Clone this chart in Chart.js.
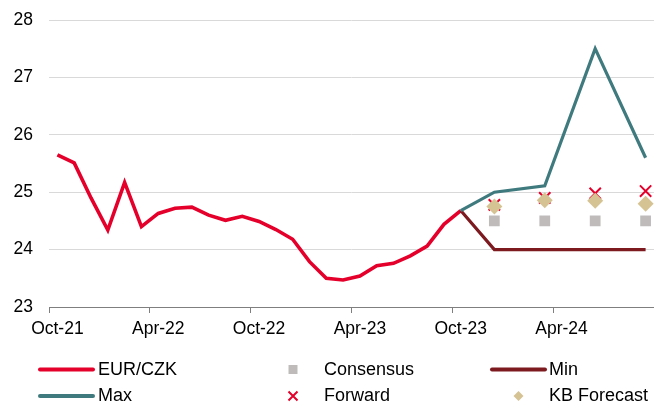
<!DOCTYPE html>
<html>
<head>
<meta charset="utf-8">
<script src="https://cdn.jsdelivr.net/npm/chart.js@4.4.1/dist/chart.umd.min.js"></script>
<style>
  html, body { margin: 0; padding: 0; background: #ffffff; }
  #wrap { position: relative; width: 654px; height: 407px; }
</style>
</head>
<body>
<div id="wrap"><canvas id="c" width="654" height="407"></canvas></div>
<script>
// Monthly categories, Oct-21 .. Sep-24
const months = [
  'Oct-21','Nov-21','Dec-21','Jan-22','Feb-22','Mar-22','Apr-22','May-22','Jun-22',
  'Jul-22','Aug-22','Sep-22','Oct-22','Nov-22','Dec-22','Jan-23','Feb-23','Mar-23',
  'Apr-23','May-23','Jun-23','Jul-23','Aug-23','Sep-23','Oct-23','Nov-23','Dec-23',
  'Jan-24','Feb-24','Mar-24','Apr-24','May-24','Jun-24','Jul-24','Aug-24','Sep-24'
];

// EUR/CZK history, Oct-21 .. Oct-23
const eurCzk = [
  25.65, 25.51, 24.90, 24.34, 25.17, 24.40, 24.63, 24.72, 24.74,
  24.60, 24.51, 24.58, 24.49, 24.35, 24.18, 23.79, 23.50, 23.47,
  23.54, 23.72, 23.76, 23.89, 24.06, 24.44, 24.68
];

// Quarter-end forecasts
const forecastMonths = ['Dec-23', 'Mar-24', 'Jun-24', 'Sep-24'];
const consensus  = [24.50, 24.50, 24.50, 24.50];
const forward    = [24.78, 24.90, 24.98, 25.02];
const kbForecast = [24.75, 24.86, 24.85, 24.80];

// Forecast range paths, starting from the last actual month
const rangeMonths = ['Oct-23', 'Dec-23', 'Mar-24', 'Jun-24', 'Sep-24'];
const maxPath = [24.68, 25.00, 25.11, 27.50, 25.60];
const minPath = [24.68, 24.00, 24.00, 24.00, 24.00];

const yMin = 23, yMax = 28, yStep = 1;
const tickEvery = 6;

const FONT = "'Liberation Sans', Arial, Helvetica, sans-serif";
const RED = '#e4002b', TEAL = '#3f7a7f', DARKRED = '#7c1a1f', GREY = '#bfbbbb', TAN = '#d6c394';

const pairs = (xs, ys) => xs.map((x, i) => ({ x: x, y: ys[i] }));

const datasets = [
  { label: 'KB Forecast', data: pairs(forecastMonths, kbForecast), showLine: false,
    pointStyle: 'rectRot', pointRadius: 8, pointHoverRadius: 8, backgroundColor: TAN, borderColor: TAN, borderWidth: 0, order: 1 },
  { label: 'Forward', data: pairs(forecastMonths, forward), showLine: false,
    pointStyle: 'crossRot', pointRadius: 8, pointHoverRadius: 8, borderColor: RED, backgroundColor: RED, pointBorderWidth: 2, order: 2 },
  { label: 'Consensus', data: pairs(forecastMonths, consensus), showLine: false,
    pointStyle: 'rect', pointRadius: 7.6, pointHoverRadius: 7.6, backgroundColor: GREY, borderColor: GREY, borderWidth: 0, order: 3 },
  { label: 'Max', data: pairs(rangeMonths, maxPath), borderColor: TEAL, backgroundColor: TEAL,
    borderWidth: 3.2, pointRadius: 0, tension: 0, order: 4 },
  { label: 'Min', data: pairs(rangeMonths, minPath), borderColor: DARKRED, backgroundColor: DARKRED,
    borderWidth: 3.2, pointRadius: 0, tension: 0, order: 5 },
  { label: 'EUR/CZK', data: eurCzk, borderColor: RED, backgroundColor: RED,
    borderWidth: 3.6, pointRadius: 0, tension: 0, order: 6 }
];

// Legend grid: three columns, two rows
const legendLayout = [
  { label: 'EUR/CZK',     kind: 'line',    col: 0, row: 0 },
  { label: 'Consensus',   kind: 'rect',    col: 1, row: 0 },
  { label: 'Min',         kind: 'line',    col: 2, row: 0 },
  { label: 'Max',         kind: 'line',    col: 0, row: 1 },
  { label: 'Forward',     kind: 'cross',   col: 1, row: 1 },
  { label: 'KB Forecast', kind: 'diamond', col: 2, row: 1 }
];
const legendCols = [
  { lineFrom: 40, lineTo: 93, marker: 66, text: 98 },
  { lineFrom: 276, lineTo: 310, marker: 293, text: 324 },
  { lineFrom: 492, lineTo: 545, marker: 518.5, text: 549 }
];
const legendRows = [369.5, 396];

const gridLegend = {
  id: 'gridLegend',
  afterDraw(chart) {
    const ctx = chart.ctx;
    ctx.save();
    ctx.font = '18px ' + FONT;
    ctx.textBaseline = 'middle';
    ctx.textAlign = 'left';
    legendLayout.forEach(item => {
      const ds = chart.data.datasets.find(d => d.label === item.label);
      const c = legendCols[item.col];
      const y = legendRows[item.row];
      const color = ds.borderColor;
      if (item.kind === 'line') {
        ctx.strokeStyle = color;
        ctx.lineWidth = 4;
        ctx.lineCap = 'round';
        ctx.beginPath();
        ctx.moveTo(c.lineFrom, y);
        ctx.lineTo(c.lineTo, y);
        ctx.stroke();
      } else if (item.kind === 'rect') {
        ctx.fillStyle = ds.backgroundColor;
        ctx.fillRect(c.marker - 4.5, y - 4.5, 9, 9);
      } else if (item.kind === 'cross') {
        ctx.strokeStyle = color;
        ctx.lineWidth = 2;
        ctx.lineCap = 'butt';
        ctx.beginPath();
        ctx.moveTo(c.marker - 4.5, y - 4.5); ctx.lineTo(c.marker + 4.5, y + 4.5);
        ctx.moveTo(c.marker + 4.5, y - 4.5); ctx.lineTo(c.marker - 4.5, y + 4.5);
        ctx.stroke();
      } else if (item.kind === 'diamond') {
        ctx.fillStyle = ds.backgroundColor;
        ctx.beginPath();
        ctx.moveTo(c.marker, y - 5); ctx.lineTo(c.marker + 5, y);
        ctx.lineTo(c.marker, y + 5); ctx.lineTo(c.marker - 5, y);
        ctx.closePath();
        ctx.fill();
      }
      ctx.fillStyle = '#000000';
      ctx.fillText(item.label, c.text, y + 0.5);
    });
    ctx.restore();
  }
};

new Chart(document.getElementById('c'), {
  type: 'line',
  data: { labels: months, datasets: datasets },
  options: {
    responsive: false,
    animation: false,
    devicePixelRatio: 1,
    layout: { autoPadding: false, padding: { top: 20, right: 0, left: 0, bottom: 0 } },
    plugins: { legend: { display: false }, tooltip: { enabled: false } },
    elements: { line: { borderJoinStyle: 'miter', borderCapStyle: 'butt' } },
    spanGaps: true,
    scales: {
      x: {
        type: 'category',
        offset: true,
        grid: {
          offset: true,
          drawOnChartArea: false,
          tickLength: 6,
          lineWidth: 1,
          color: ctx => (ctx.index % tickEvery === 0 ? '#7f7f7f' : 'rgba(0,0,0,0)')
        },
        border: { display: true, color: '#7f7f7f', width: 1 },
        ticks: {
          autoSkip: false, maxRotation: 0, minRotation: 0, padding: 6,
          color: '#000000', font: { family: FONT, size: 17.5 },
          callback: (v, i) => (i % tickEvery === 0 ? months[i] : '')
        },
        afterFit: s => { s.height = 100; s.paddingLeft = 0; s.paddingRight = 0; }
      },
      y: {
        min: yMin, max: yMax,
        grid: { color: '#d9d9d9', lineWidth: 1, drawTicks: false },
        border: { display: false },
        ticks: { stepSize: yStep, padding: 16, color: '#000000', font: { family: FONT, size: 17.5 } },
        afterFit: s => { s.width = 49; s.paddingTop = 0; s.paddingBottom = 0; }
      }
    }
  },
  plugins: [gridLegend]
});
</script>
</body>
</html>
